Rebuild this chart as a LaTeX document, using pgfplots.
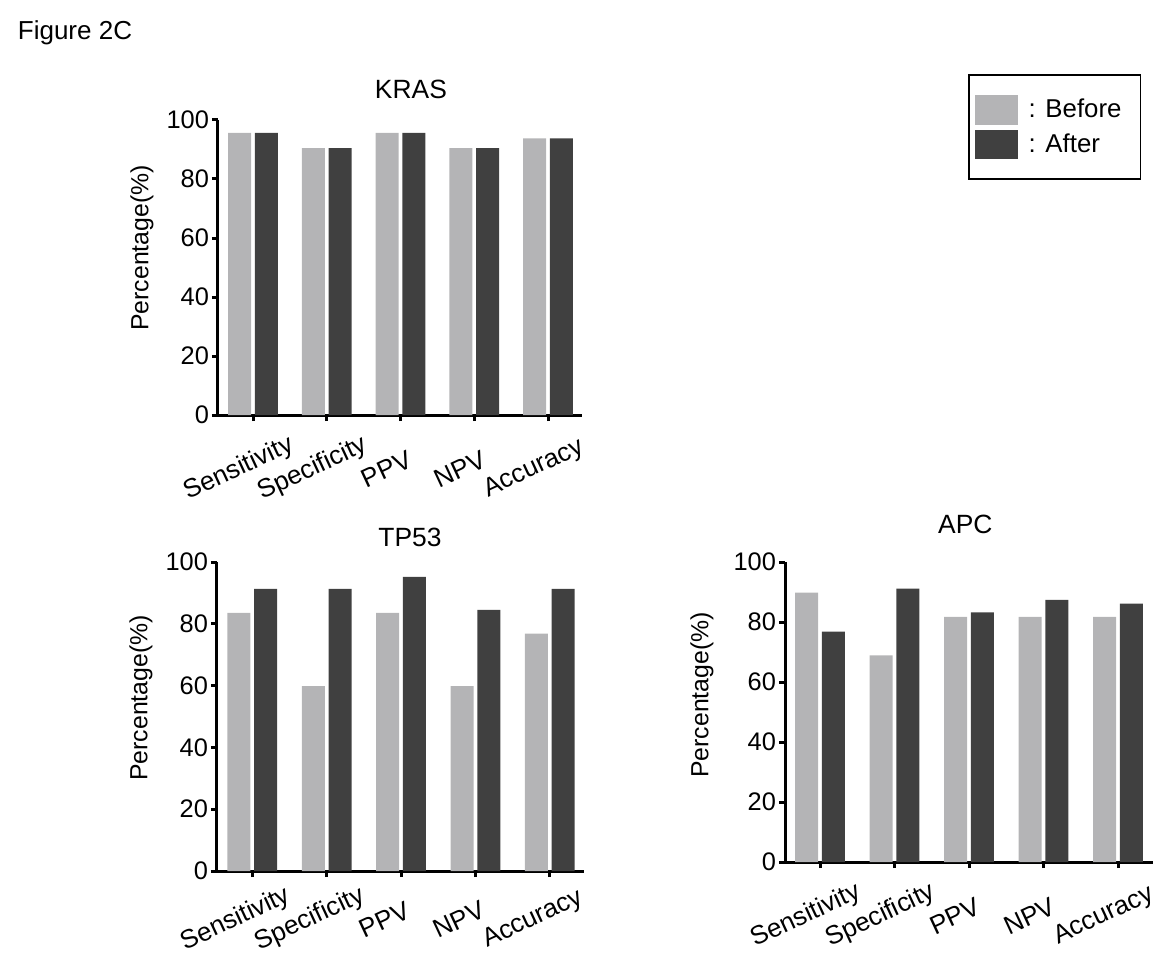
\documentclass[border=0pt]{standalone}
\usepackage{pgfplots}
\pgfplotsset{compat=1.18}
\usepackage{pgfplotstable}
\usepackage{fontspec}
\setmainfont{Liberation Sans}
\definecolor{before}{RGB}{180,180,182}
\definecolor{after}{RGB}{64,64,64}

\pgfplotstableread{
x before after
0 95.6 95.6
1 90.5 90.5
2 95.6 95.6
3 90.5 90.5
4 93.8 93.8
}\kras
\pgfplotstableread{
x before after
0 83.5 91.3
1 59.8 91.3
2 83.5 95.2
3 59.8 84.5
4 76.8 91.3
}\tpff
\pgfplotstableread{
x before after
0 89.8 76.8
1 68.9 91.1
2 81.7 83.2
3 81.7 87.4
4 81.7 86.1
}\apc

\pgfplotsset{
  gcstyle/.style={
    scale only axis,
    axis x line=bottom, axis y line=left,
    axis line style={-, line width=1.5pt},
    xmin=-0.475, xmax=4.46, ymin=0, ymax=100,
    ytick={0,20,...,100},
    xtick={0,1,2,3,4},
    xticklabels={Sensitivity,Specificity,PPV,NPV,Accuracy},
    tick align=outside,
    major tick length=3pt,
    tick style={line width=1.5pt, black},
    /pgf/number format/assume math mode=true,
    yticklabel style={font=\fontsize{12.7}{14}\selectfont, xshift=2pt},
    xticklabel style={font=\fontsize{13}{15}\selectfont, anchor=center, xshift=-7pt, yshift=-24pt, rotate=25},
    clip=false,
  },
  bbef/.style={ybar, fill=before, draw=none, bar width=11.5pt, bar shift=-6.7pt},
  baft/.style={ybar, fill=after, draw=none, bar width=11.5pt, bar shift=6.7pt},
}

\begin{document}
\begin{tikzpicture}
\path[use as bounding box] (0,0) rectangle (587pt,483pt);
\node[font=\fontsize{13}{15}\selectfont] at (37.5pt,466.5pt) {Figure 2C};

% KRAS
\begin{axis}[gcstyle, at={(109pt,275.5pt)}, anchor=south west, width=182pt, height=147.5pt,
  legend style={at={(2.06,1.156)}, anchor=north west, draw=black, line width=0.9pt,
    inner xsep=3pt, inner ysep=10pt, row sep=2.5pt,
    font=\fontsize{12.9}{14}\selectfont, cells={anchor=west}},
  legend image code/.code={\fill[#1] (0pt,-7.4pt) rectangle (21.5pt,7.4pt); \path (25pt,0pt);},
]
\addplot[bbef] table[x=x,y=before] {\kras};
\addlegendentry{: Before\hspace*{4.5pt}}
\addplot[baft] table[x=x,y=after] {\kras};
\addlegendentry{: After}
\node[font=\fontsize{13.2}{15}\selectfont] at ([yshift=15.5pt]rel axis cs:0.53,1) {KRAS};
\node[rotate=90, font=\fontsize{12.4}{14}\selectfont] at ([xshift=-38pt]rel axis cs:0,0.566) {Percentage(\%)};
\end{axis}

% TP53
\begin{axis}[gcstyle, at={(108.5pt,47.5pt)}, anchor=south west, width=183.5pt, height=154.5pt,
  xticklabel style={yshift=3pt}]
\addplot[bbef] table[x=x,y=before] {\tpff};
\addplot[baft] table[x=x,y=after] {\tpff};
\node[font=\fontsize{13.2}{15}\selectfont] at ([yshift=12.5pt]rel axis cs:0.526,1) {TP53};
\node[rotate=90, font=\fontsize{12.4}{14}\selectfont] at ([xshift=-38pt]rel axis cs:0,0.56) {Percentage(\%)};
\end{axis}

% APC
\begin{axis}[gcstyle, at={(392.5pt,52pt)}, anchor=south west, width=184pt, height=150pt,
  xmin=-0.47, xmax=4.47]
\addplot[bbef] table[x=x,y=before] {\apc};
\addplot[baft] table[x=x,y=after] {\apc};
\node[font=\fontsize{13.2}{15}\selectfont] at ([yshift=19pt]rel axis cs:0.49,1) {APC};
\node[rotate=90, font=\fontsize{12.4}{14}\selectfont] at ([xshift=-41.5pt]rel axis cs:0,0.557) {Percentage(\%)};
\end{axis}
\end{tikzpicture}
\end{document}
